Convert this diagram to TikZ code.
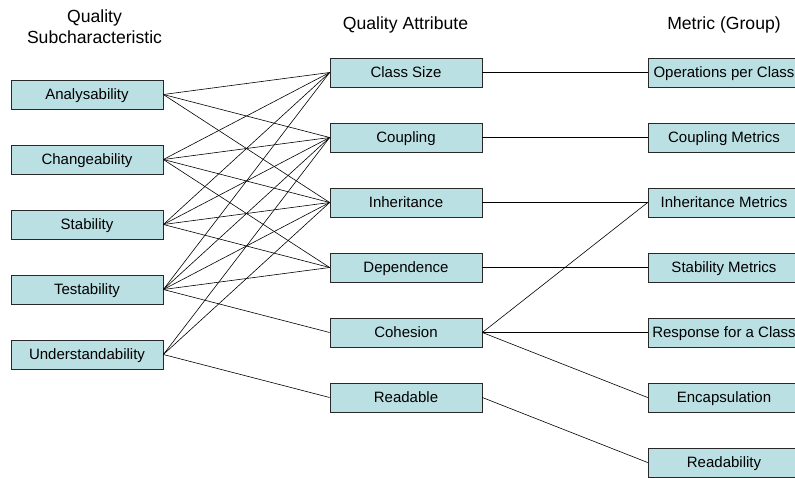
\documentclass[tikz,border=0pt]{standalone}
\usepackage{fontspec}
\setmainfont{Liberation Sans}
\definecolor{boxfill}{RGB}{186,224,227}
\definecolor{boxline}{RGB}{40,40,40}
\begin{document}
\begin{tikzpicture}[x=1pt,y=-1pt,
  box/.style={draw=boxline, fill=boxfill, line width=0.7pt, minimum width=152pt, minimum height=29pt,
    inner sep=0pt, text height=10.2pt, text depth=0pt, font=\fontsize{15}{18}\selectfont},
  hdr/.style={font=\fontsize{17.6}{21}\selectfont, inner sep=0pt, anchor=base},
  link/.style={line width=0.6pt, black}]
\useasboundingbox (0,0) rectangle (795,477);
% headers
\node[hdr] (h1a) at (94.5,22) {Quality};
\node[hdr] (h1b) at (94.5,43.5) {Subcharacteristic};
\node[hdr] (h2) at (405.5,29.5) {Quality Attribute};
\node[hdr] (h3) at (724,29.5) {Metric (Group)};
% left column
\node[box] (a) at (87,94.5) {Analysability};
\node[box] (c) at (87,159.5) {Changeability};
\node[box] (s) at (87,224.5) {Stability};
\node[box] (t) at (87,289.5) {Testability};
\node[box] (u) at (87,354.5) {Understandability};
% middle column
\node[box] (cs) at (406,72.5) {Class Size};
\node[box] (cp) at (406,137.5) {Coupling};
\node[box] (inh) at (406,202.5) {Inheritance};
\node[box] (dep) at (406,267.5) {Dependence};
\node[box] (coh) at (406,332.5) {Cohesion};
\node[box] (rd) at (406,397.5) {Readable};
% right column
\node[box] (ops) at (724,72.5) {Operations per Class};
\node[box] (cm) at (724,137.5) {Coupling Metrics};
\node[box] (im) at (724,202.5) {Inheritance Metrics};
\node[box] (sm) at (724,267.5) {Stability Metrics};
\node[box] (rfc) at (724,332.5) {Response for a Class};
\node[box] (enc) at (724,397.5) {Encapsulation};
\node[box] (rdy) at (724,462.5) {Readability};
% left links
\foreach \src/\dst in {a/cs,a/cp,a/inh,
  c/cs,c/cp,c/inh,c/dep,
  s/cs,s/cp,s/inh,s/dep,
  t/cs,t/cp,t/inh,t/dep,t/coh,
  u/cp,u/inh,u/rd}
  \draw[link] (\src.east) -- (\dst.west);
% right links
\foreach \src/\dst in {cs/ops,cp/cm,inh/im,dep/sm,coh/im,coh/rfc,coh/enc,rd/rdy}
  \draw[link] (\src.east) -- (\dst.west);
\end{tikzpicture}
\end{document}
